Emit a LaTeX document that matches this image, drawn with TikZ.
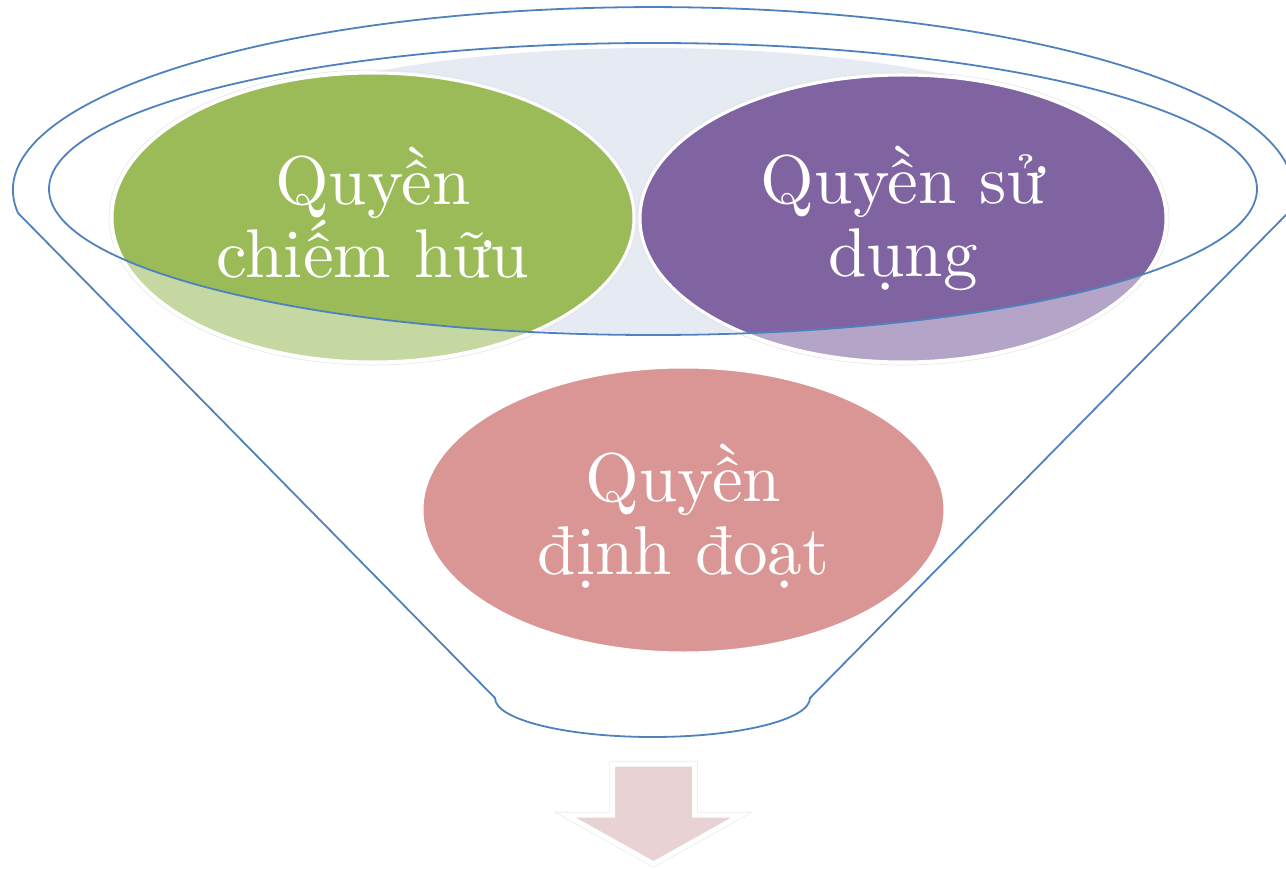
\documentclass[tikz,border=0pt]{standalone}
\usepackage{fontspec}
\setmainfont{lmroman10-regular.otf}
\definecolor{rimblue}{HTML}{4F81BD}
\definecolor{leafgreen}{HTML}{9BBB59}
\definecolor{leafgreenpale}{HTML}{C5D8A1}
\definecolor{usepurple}{HTML}{8064A2}
\definecolor{usepurplepale}{HTML}{B4A4C8}
\definecolor{rosefill}{HTML}{D99694}
\definecolor{bowlfill}{HTML}{E5EAF3}
\definecolor{arrowfill}{HTML}{E8D2D3}
\lineskiplimit=-\maxdimen
\begin{document}
\begin{tikzpicture}[x=1pt,y=-1pt,
  rim/.style={draw=rimblue,line width=1.8pt},
  bubbleedge/.style={draw=white,line width=3pt},
  bubbleshade/.style={draw=black!10,line width=0.6pt},
  bubbletext/.style={text=white,align=center,inner sep=0pt,
    font=\fontsize{69}{73}\selectfont}]
\useasboundingbox (0,0) rectangle (1286,869);

% light interior of the funnel mouth
\begin{scope}
  \clip (653,189) ellipse [x radius=604,y radius=146];
  \fill[bowlfill] (653,191) ellipse [x radius=505,y radius=143];
\end{scope}

% upper bubbles: pale below the rim, full colour inside it
\draw[bubbleshade] (373,217.5) ellipse [x radius=264,y radius=147.5];
\draw[bubbleshade] (903,218.5) ellipse [x radius=266,y radius=146.5];
\fill[leafgreenpale] (373,217.5) ellipse [x radius=261,y radius=144.5];
\fill[usepurplepale] (903,218.5) ellipse [x radius=263,y radius=143.5];
\begin{scope}
  \clip (653,189) ellipse [x radius=604,y radius=146];
  \fill[leafgreen] (373,217.5) ellipse [x radius=261,y radius=144.5];
  \fill[usepurple] (903,218.5) ellipse [x radius=263,y radius=143.5];
\end{scope}
\draw[bubbleedge] (373,217.5) ellipse [x radius=261,y radius=144.5];
\draw[bubbleedge] (903,218.5) ellipse [x radius=263,y radius=143.5];

% lower bubble
\fill[rosefill] (683.5,510) ellipse [x radius=261.5,y radius=143];
\draw[bubbleedge] (683.5,510) ellipse [x radius=261.5,y radius=143];

% rim of the funnel mouth
\draw[rim] (653,189) ellipse [x radius=604,y radius=146];

% funnel body
\draw[rim,line join=round] (18,213)
  arc[start angle=172.8,end angle=367.2,x radius=640,y radius=183]
  -- (810,698)
  arc[start angle=0,end angle=180,x radius=157.5,y radius=39]
  -- cycle;

% outlet arrow
\draw[draw=black!8,line width=6.5pt,line join=miter]
  (612.5,764) -- (694.5,764) -- (694.5,815) -- (741,815) -- (653.5,864)
  -- (566,815) -- (612.5,815) -- cycle;
\draw[draw=white,fill=arrowfill,line width=5pt,line join=miter]
  (612.5,764) -- (694.5,764) -- (694.5,815) -- (741,815) -- (653.5,864)
  -- (566,815) -- (612.5,815) -- cycle;

% labels
\node[bubbletext] (possession) at (373,213) {Quyền\\chiếm hữu};
\node[bubbletext] (usage) at (903,218) {Quyền sử\\dụng};
\node[bubbletext] (disposal) at (683.5,516) {Quyền\\định đoạt};
\end{tikzpicture}
\end{document}
